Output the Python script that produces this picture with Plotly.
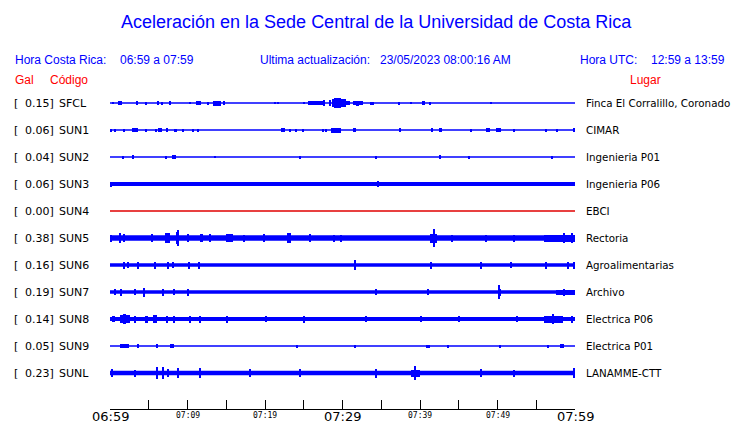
import plotly.graph_objects as go

# ---------------- data ----------------
title = "Aceleración en la Sede Central de la Universidad de Costa Rica"
hora_cr = "06:59 a 07:59"
hora_utc = "12:59 a 13:59"
ultima = "23/05/2023 08:00:16 AM"

codes = ["SFCL", "SUN1", "SUN2", "SUN3", "SUN4", "SUN5", "SUN6", "SUN7", "SUN8", "SUN9", "SUNL"]
gal = [0.15, 0.06, 0.04, 0.06, 0.00, 0.38, 0.16, 0.19, 0.14, 0.05, 0.23]
places = ["Finca El Corralillo, Coronado", "CIMAR", "Ingenieria P01", "Ingenieria P06", "EBCI",
          "Rectoria", "Agroalimentarias", "Archivo", "Electrica P06", "Electrica P01", "LANAMME-CTT"]
trace_colors = ["blue", "blue", "blue", "blue", "#e00000", "blue", "blue", "blue", "blue", "blue", "blue"]

# background noise band thickness (display units)
band = [1.3, 1.5, 1.3, 4.2, 1.5, 5.5, 3.5, 3.5, 4.0, 1.3, 4.5]

# bursts per station: (start minute, end minute, half amplitude)
bursts = {
    "SFCL": [(0.3, 0.5, 1), (1.0, 1.6, 2), (3.4, 3.6, 2), (4.6, 4.8, 1.5), (6.1, 6.3, 2), (6.6, 6.9, 1.5),
             (7.7, 7.9, 2), (10.3, 10.5, 1), (11.1, 11.7, 2), (12.6, 12.8, 1.5), (13.3, 14.3, 2.5),
             (14.7, 14.9, 2), (21.2, 21.35, 1), (21.6, 21.75, 1), (25.0, 25.15, 1), (25.6, 27.5, 2.3),
             (27.5, 27.8, 3), (28.2, 28.5, 3), (28.6, 30.4, 4.2), (28.9, 29.8, 5), (30.5, 31.0, 2),
             (31.3, 32.6, 1.8), (31.8, 32.1, 2.5), (33.5, 34.0, 1.5), (37.2, 37.35, 1.5), (38.8, 38.95, 1),
             (40.3, 40.6, 2), (41.2, 41.35, 1.5), (49.1, 49.25, 1)],
    "SUN1": [(0.1, 0.25, 1.5), (0.6, 0.75, 1.5), (1.8, 1.95, 1.5), (2.9, 3.6, 2), (4.6, 4.75, 1.5),
             (5.9, 6.05, 1.5), (6.2, 6.7, 2), (7.3, 7.5, 2), (8.2, 8.6, 1.5), (9.3, 9.45, 1.5),
             (10.6, 10.75, 1.5), (11.3, 11.45, 1.5), (22.0, 22.6, 2), (23.2, 23.35, 1.5), (23.9, 24.05, 1.5),
             (24.8, 24.95, 1.5), (27.4, 27.55, 1.5), (27.8, 27.95, 1.5), (28.5, 29.8, 2.5), (31.4, 31.8, 2),
             (37.3, 37.45, 2), (41.5, 41.65, 2), (42.5, 42.8, 2), (46.5, 46.65, 1.5), (48.5, 49.0, 2),
             (49.8, 50.4, 2), (52.0, 52.15, 1.5), (56.2, 56.35, 1.5), (57.5, 57.8, 1.5), (59.85, 60.0, 2)],
    "SUN2": [(1.6, 1.75, 1.5), (2.9, 3.05, 2), (7.2, 7.35, 1.5), (8.0, 8.15, 2), (8.3, 8.45, 2),
             (13.5, 13.65, 1), (24.5, 24.65, 1.5), (34.2, 34.35, 1.5), (42.5, 42.7, 2), (46.2, 46.35, 1.5),
             (57.0, 57.15, 1.5)],
    "SUN3": [(0.1, 0.25, 2.5), (34.5, 34.65, 3)],
    "SUN4": [],
    "SUN5": [(0.0, 0.3, 3.5), (1.2, 1.35, 5), (1.7, 1.85, 4), (5.4, 5.55, 4), (7.1, 7.8, 5), (8.5, 8.9, 6),
             (8.75, 8.9, 8), (10.0, 10.15, 4), (11.6, 12.0, 4), (12.9, 13.05, 4), (15.0, 15.9, 4),
             (17.2, 17.35, 3.5), (19.8, 19.95, 4), (22.8, 23.3, 5), (25.8, 25.95, 4), (28.8, 28.95, 3.5),
             (29.7, 29.85, 3.5), (41.3, 42.2, 4.5), (41.7, 41.85, 9), (44.0, 44.15, 3.5), (48.5, 48.65, 3.5),
             (52.0, 52.15, 3.5), (56.0, 60.0, 3.5), (58.5, 58.7, 5), (59.6, 59.8, 5)],
    "SUN6": [(1.7, 1.85, 3.5), (2.3, 2.45, 3), (3.5, 3.65, 3.5), (5.7, 5.85, 3.5), (7.4, 7.55, 3.5),
             (8.0, 8.15, 3), (10.1, 10.25, 3.5), (11.4, 11.55, 3.5), (31.6, 31.75, 5), (41.4, 41.55, 3.5),
             (47.8, 47.95, 3.5), (51.7, 51.85, 3), (56.2, 56.35, 3.5), (59.0, 59.15, 3.5), (59.85, 60.0, 3.5)],
    "SUN7": [(0.6, 0.75, 3), (1.4, 1.55, 3.5), (3.2, 3.35, 3), (4.3, 4.5, 4.5), (6.8, 6.95, 3.5),
             (8.2, 8.35, 3), (10.0, 10.15, 3.5), (34.3, 34.45, 3), (41.0, 41.15, 3), (50.0, 50.5, 3.5),
             (50.1, 50.25, 7), (57.5, 60.0, 2.5), (58.5, 58.65, 3.5)],
    "SUN8": [(0.2, 0.6, 3), (1.3, 2.6, 4), (1.8, 2.0, 5), (3.2, 3.35, 3.5), (4.5, 4.9, 3.5), (5.6, 6.1, 4),
             (7.3, 7.45, 3.5), (8.1, 8.4, 3.5), (10.3, 10.45, 3.5), (11.5, 11.65, 3.5), (15.0, 15.15, 3.5),
             (20.0, 20.15, 3), (25.0, 25.2, 3.5), (33.0, 33.15, 3), (40.0, 40.15, 3), (45.0, 45.2, 3),
             (52.5, 52.65, 3), (56.0, 58.5, 3.5), (57.0, 57.3, 5), (59.5, 59.7, 3.5)],
    "SUN9": [(1.3, 2.4, 2), (3.5, 3.65, 2), (6.0, 6.15, 2), (7.8, 8.2, 2), (24.0, 24.15, 1.5),
             (31.5, 31.65, 1.5), (40.8, 41.3, 1.5), (43.5, 43.65, 1.5), (50.3, 50.45, 1.5),
             (56.5, 56.65, 1.5), (58.0, 58.6, 2)],
    "SUNL": [(0.2, 0.35, 4), (3.2, 3.35, 3.5), (6.0, 6.15, 6), (6.8, 6.95, 6), (7.4, 7.55, 4),
             (8.7, 8.85, 5), (11.5, 11.65, 5), (18.0, 18.15, 4), (24.5, 24.65, 4), (34.2, 34.35, 4.5),
             (38.8, 40.0, 3.5), (39.3, 39.5, 7), (47.8, 47.95, 4), (52.0, 52.15, 3.5), (59.8, 60.0, 5)],
}

tick_minutes = [0, 5, 10, 15, 20, 25, 30, 35, 40, 45, 50, 55, 60]
major_labels = {0: "06:59", 30: "07:29", 60: "07:59"}
minor_labels = {10: "07:09", 20: "07:19", 40: "07:39", 50: "07:49"}

# ---------------- layout geometry (pixels, in window coordinates) ----------------
OFF = 8                       # page body margin offset
FIG_W, FIG_H = 740 - OFF, 423 - OFF
L, R, T, B = 110, 575, 90, 409
PW, PH = R - L, B - T
ROW0, ROWSTEP = 13, 27   # row centres in plot units (plot units == pixels, top = 0)


def px(x):
    return (x - L) / PW


def py(y):
    return (B - y) / PH


fig = go.Figure()

for i, code in enumerate(codes):
    yc = ROW0 + ROWSTEP * i
    col = trace_colors[i]
    fig.add_trace(go.Scatter(x=[0, 60], y=[yc, yc], mode="lines",
                             line=dict(color=col, width=band[i]), hoverinfo="skip", showlegend=False))
    b = bursts[code]
    if b:
        xs = [(s + e) / 2 for s, e, a in b]
        ws = [max(e - s, 0.15) for s, e, a in b]
        bases = [yc - a for s, e, a in b]
        hs = [2 * a for s, e, a in b]
        fig.add_trace(go.Bar(x=xs, y=hs, base=bases, width=ws, marker=dict(color=col, line=dict(width=0)),
                             hoverinfo="skip", showlegend=False))

annotations = []


def ann(text, x, y, size, color, family, xanchor="left", xref="paper"):
    annotations.append(dict(text=text, x=x if xref != "paper" else px(x), y=py(y), xref=xref, yref="paper",
                            xanchor=xanchor, yanchor="middle", showarrow=False,
                            font=dict(size=size, color=color, family=family)))


SANS = "Liberation Sans"
DJ = "DejaVu Sans"
ann(title, 376, 22, 18, "blue", SANS, "center")
ann("Hora Costa Rica:", 13, 60, 12, "blue", SANS)
ann(hora_cr, 118, 60, 12, "blue", SANS)
ann("Ultima actualización:", 258, 60, 12, "blue", SANS)
ann(ultima, 378, 60, 12, "blue", SANS)
ann("Hora UTC:", 578, 60, 12, "blue", SANS)
ann(hora_utc, 649, 60, 12, "blue", SANS)
ann("Gal", 13, 80, 12, "red", SANS)
ann("Código", 48, 80, 12, "red", SANS)
ann("Lugar", 628, 80, 12, "red", SANS)

for i, code in enumerate(codes):
    ypix = T + ROW0 + ROWSTEP * i
    ann("[", 12, ypix, 11, "black", DJ)
    ann(f"{gal[i]:.2f}]", 56, ypix, 11, "black", DJ, "right")
    ann(code, 57, ypix, 11, "black", DJ)
    ann(places[i], 584, ypix, 10.3, "black", DJ)

for m, lab in major_labels.items():
    ann(lab, m, 417, 13, "black", DJ, "center", xref="x")
for m, lab in minor_labels.items():
    ann(lab, m, 415, 8, "black", "DejaVu Sans Mono", "center", xref="x")

fig.update_layout(
    width=FIG_W, height=FIG_H,
    margin=dict(l=L - OFF, r=FIG_W - (R - OFF), t=T - OFF, b=FIG_H - (B - OFF), pad=0),
    paper_bgcolor="white", plot_bgcolor="white",
    barmode="overlay", bargap=0,
    showlegend=False,
    annotations=annotations,
    xaxis=dict(range=[0, 60], tickvals=tick_minutes, ticks="inside", ticklen=9, tickwidth=1,
               tickcolor="black", showticklabels=False, showgrid=False, zeroline=False,
               showline=True, linecolor="black", linewidth=1, fixedrange=True),
    yaxis=dict(range=[PH, 0], showticklabels=False, showgrid=False, zeroline=False,
               showline=False, ticks="", fixedrange=True),
)

fig.write_html("out.html")
